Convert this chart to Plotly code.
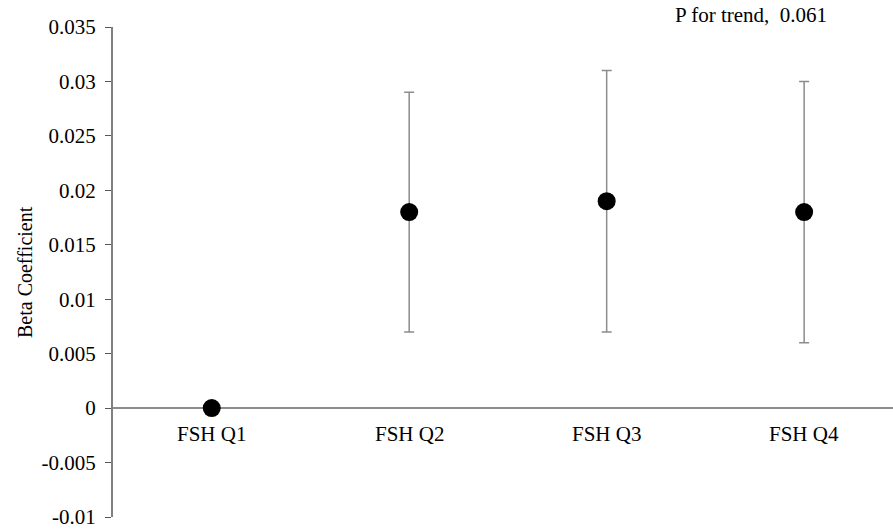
import plotly.graph_objects as go

categories = ["FSH Q1", "FSH Q2", "FSH Q3", "FSH Q4"]
beta = [0.0, 0.018, 0.019, 0.018]
ci_low = [0.0, 0.007, 0.007, 0.006]
ci_high = [0.0, 0.029, 0.031, 0.030]
y_ticks = [-0.01, -0.005, 0, 0.005, 0.01, 0.015, 0.02, 0.025, 0.03, 0.035]
y_tick_labels = ["-0.01", "-0.005", "0", "0.005", "0.01", "0.015", "0.02", "0.025", "0.03", "0.035"]
p_trend_text = "P for trend,&nbsp; 0.061"

FONT = "Liberation Serif"
GRAY = "#8c8c8c"

xpos = list(range(len(categories)))
err_plus = [h - b for h, b in zip(ci_high, beta)]
err_minus = [b - l for b, l in zip(beta, ci_low)]
show_err = [h != l for h, l in zip(ci_high, ci_low)]
err_plus = [e if s else None for e, s in zip(err_plus, show_err)]
err_minus = [e if s else None for e, s in zip(err_minus, show_err)]

fig = go.Figure()
fig.add_trace(go.Scatter(
    x=xpos, y=beta, mode="markers",
    marker=dict(color="black", size=18),
    error_y=dict(type="data", symmetric=False, array=err_plus, arrayminus=err_minus,
                 color=GRAY, thickness=1.5, width=5),
    showlegend=False,
))

annotations = []
for i, c in enumerate(categories):
    annotations.append(dict(x=i, y=0, xref="x", yref="y", text=c, showarrow=False,
                            yanchor="top", yshift=-12, font=dict(size=21, color="black", family=FONT)))
annotations.append(dict(x=-0.5, y=0.5, xref="x", yref="paper", text="Beta Coefficient",
                        textangle=-90, showarrow=False, xanchor="center", yanchor="middle",
                        xshift=-88, font=dict(size=20, color="black", family=FONT)))
annotations.append(dict(x=(752 - 212.7) / 197.4, y=1, xref="x", yref="paper", text=p_trend_text,
                        showarrow=False, yanchor="middle", yshift=12,
                        font=dict(size=21, color="black", family=FONT)))

fig.update_layout(
    width=893, height=529,
    margin=dict(l=113, r=0, t=27, b=12),
    paper_bgcolor="white", plot_bgcolor="white",
    font=dict(family=FONT, size=21, color="black"),
    xaxis=dict(range=[-0.5, 3.45], showgrid=False, zeroline=False, showline=False,
               showticklabels=False, ticks=""),
    yaxis=dict(range=[-0.01, 0.035], tickvals=y_ticks, ticktext=y_tick_labels,
               showgrid=False, zeroline=True, zerolinecolor=GRAY, zerolinewidth=2,
               showline=True, linecolor="#808080", linewidth=2, ticks="outside", ticklen=6,
               tickcolor="#555555", tickwidth=1, ticklabelstandoff=5,
               ticklabeloverflow="allow",
               tickfont=dict(size=21, family=FONT, color="black")),
    annotations=annotations,
)

fig.write_html("out.html")
